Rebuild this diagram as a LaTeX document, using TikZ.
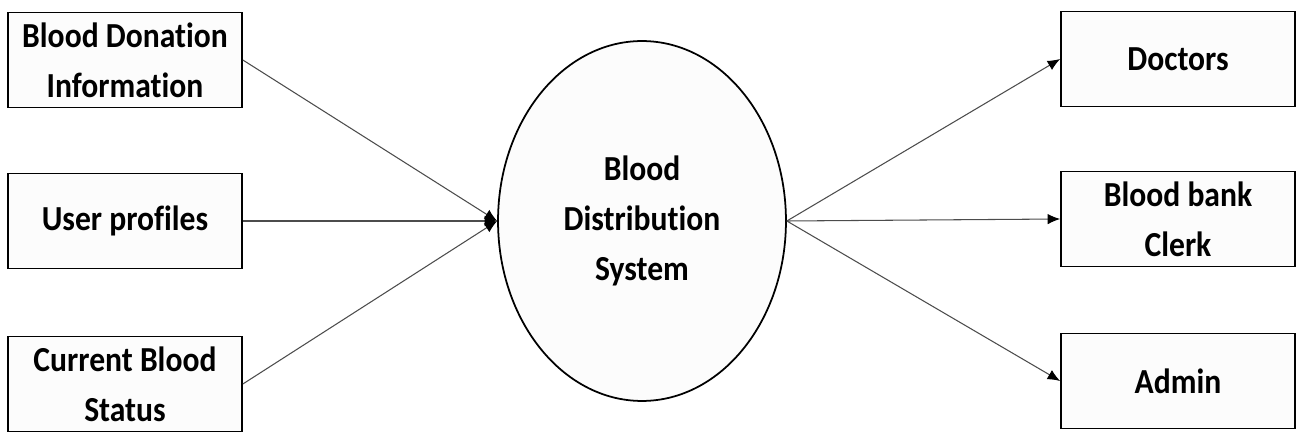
\documentclass[tikz,border=0pt]{standalone}
\usepackage{fontspec}
\setmainfont{Carlito}[FakeStretch=0.9, Ligatures=NoCommon]
\usetikzlibrary{arrows.meta,shapes.geometric}

\begin{document}
\begin{tikzpicture}
[x=0.02cm, y=-0.02cm,
 every edge/.append style={draw=black!70, line width=0.6pt, -{Latex[length=0.25cm,width=0.21cm,color=black]}},
 entity/.style={draw, line width=1pt, fill=black!1, minimum width=4.68cm, minimum height=1.9cm,
   align=center, inner sep=0pt, font=\fontsize{20}{28.5}\selectfont\bfseries},
 process/.style={draw, ellipse, line width=1pt, fill=black!1, minimum width=5.76cm, minimum height=7.2cm,
   align=center, inner sep=0pt, font=\fontsize{20}{28.5}\selectfont\bfseries},
]
\useasboundingbox (0,0) rectangle (1296,432);
\def \lx {125}  % centre of the left boxes
\def \rx {1178} % centre of the right boxes

\node[entity] (info) at (\lx,60) {Blood Donation\\Information};
\node[entity] (profiles) at (\lx,221) {User profiles};
\node[entity] (status) at (\lx,384) {Current Blood\\Status};

\node[process] (bds) at (642,221) {Blood\\Distribution\\System};

\node[entity] (doctors) at (\rx,59) {Doctors};
\node[entity] (clerk) at (\rx,219) {Blood bank\\Clerk};
\node[entity] (admin) at (\rx,381) {Admin};

\draw (info.east) edge (bds.west);
\draw (profiles.east) edge (bds.west);
\draw (status.east) edge (bds.west);
\draw (bds.east) edge (doctors.west);
\draw (bds.east) edge (clerk.west);
\draw (bds.east) edge (admin.west);
\end{tikzpicture}
\end{document}
